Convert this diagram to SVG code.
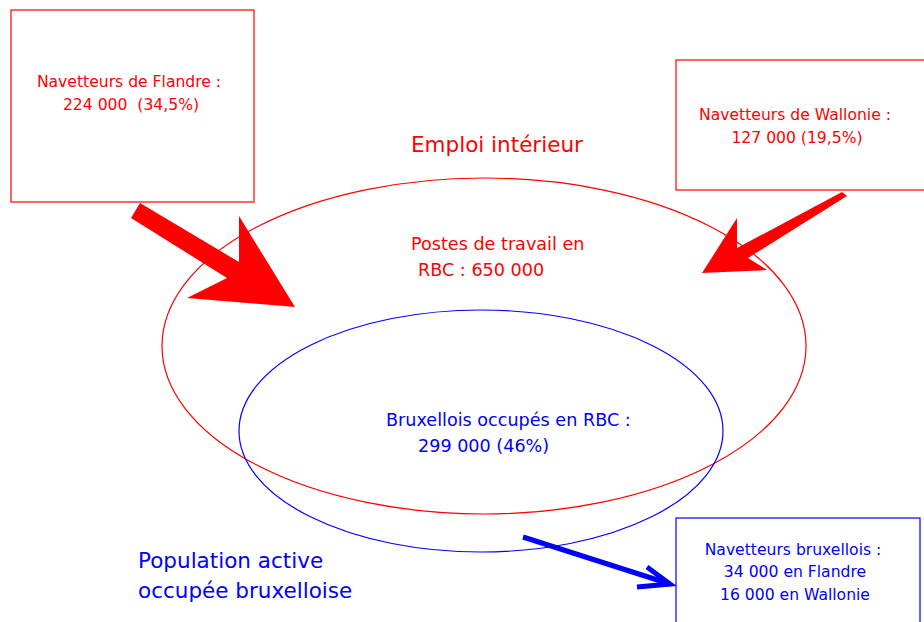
<svg xmlns="http://www.w3.org/2000/svg" width="924" height="622" viewBox="0 0 924 622">
<style>
.red{fill:#ff0000}
.blue{fill:#0000ff}
text{font-family:"DejaVu Sans","Liberation Sans",sans-serif;white-space:pre}
.s{font-size:15.6px}
.m{font-size:17.6px}
.l{font-size:21.5px}
.box{fill:#fff;stroke-width:1.2}
</style>
<rect width="924" height="622" fill="#fff"/>
<g id="emploi">
<ellipse cx="484" cy="346" rx="322" ry="168" fill="none" stroke="#ff0000" stroke-width="1.2"/>
<text class="red l" x="411" y="152">Emploi intérieur</text>
<text class="red m" x="411" y="250">Postes de travail en</text>
<text class="red m" x="418" y="276">RBC : 650 000</text>
</g>
<g id="population">
<ellipse cx="481" cy="431" rx="242" ry="121" fill="none" stroke="#0000ff" stroke-width="1.2"/>
<text class="blue m" x="386" y="426">Bruxellois occupés en RBC :</text>
<text class="blue m" x="418" y="452">299 000 (46%)</text>
<text class="blue l" x="138" y="568">Population active</text>
<text class="blue l" x="138" y="598">occupée bruxelloise</text>
</g>
<g id="flandre">
<rect class="box" x="11" y="10" width="243" height="192" stroke="#ff0000"/>
<text class="red s" x="129" y="87" text-anchor="middle">Navetteurs de Flandre :</text>
<text class="red s" x="131" y="110" text-anchor="middle">224 000  (34,5%)</text>
</g>
<g id="wallonie">
<rect class="box" x="676" y="60" width="250" height="130" stroke="#ff0000"/>
<text class="red s" x="795" y="120" text-anchor="middle">Navetteurs de Wallonie :</text>
<text class="red s" x="797" y="143" text-anchor="middle">127 000 (19,5%)</text>
</g>
<g id="bxl">
<rect class="box" x="676" y="518" width="244" height="110" stroke="#0000ff"/>
<text class="blue s" x="793" y="555" text-anchor="middle">Navetteurs bruxellois :</text>
<text class="blue s" x="795" y="577" text-anchor="middle">34 000 en Flandre</text>
<text class="blue s" x="795" y="600" text-anchor="middle">16 000 en Wallonie</text>
</g>
<g id="connectors">
<polygon fill="#ff0000" points="131,218 140,203 239,262 239,216 295,307 187,298 227,278"/>
<polygon fill="#ff0000" points="847,196 842,192 737,248 737,218 702,273 767,270 748,258"/>
<line x1="523" y1="537" x2="670" y2="584" stroke="#0000ff" stroke-width="5"/>
<polyline points="647,567 670,584 637,587" fill="none" stroke="#0000ff" stroke-width="5"/>
</g>
</svg>
